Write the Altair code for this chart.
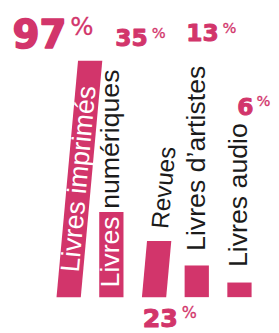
import math
import altair as alt
import pandas as pd

# ---------------- data ----------------
CATEGORIES = ["Livres imprimés", "Livres numériques", "Revues", "Livres d’artistes", "Livres audio"]
VALUES = [97, 35, 23, 13, 6]
VALUE_TEXT = ["97", "35", "23", "13", "6"]
PERCENT_SIGN = "%"

# ---------------- style ----------------
PINK = "#D2356B"
INK = "#1b1b1b"
W, H = 271, 293
BOTTOM_PAD = 32
X_STEP_PX = 44.0
FIRST_CENTER_PX = 62.5
PX_PER_UNIT_Y = 2.51
BAR_W_PX = 25.0
TILT_DEG = [5.2, 0, 5.2, 0, 0]

LABEL_FONT = "Liberation Sans"
LABEL_SIZE = [27.5, 27.5, 25, 27.5, 27.5]
LABEL_BASE = ["bottom", "bottom", "top", "top", "top"]   # where the label starts
LABEL_GAP = [26, 10, 13, 15, 16]                          # px from that point
LABEL_INSIDE_WORDS = [2, 1, 0, 0, 0]                      # words drawn white inside the bar

NUM_FONT = "DejaVu Sans"
NUM_SIZE = [40, 24, 26, 24, 24]
NUM_STROKE = [1.6, 1.0, 1.1, 1.0, 1.0]
NUM_ANCHOR = ["top", "top", "bottom", "top", "top"]
NUM_OFFSET = [(-24.5, -13.5), (37.5, -171), (24.5, 31), (22.5, -231), (14.5, -173)]
PCT_RATIO = 0.63
PCT_GAP = [4, 4, 4, 4, 3]

# Helvetica-compatible advance widths (per em) for label continuation
ADV = {"L": .556, "i": .222, "v": .5, "r": .333, "e": .556, "s": .5, " ": .278,
       "n": .556, "u": .556, "m": .833, "é": .556, "q": .556, "R": .722, "d": .556,
       "’": .222, "a": .556, "t": .278, "o": .556, "p": .556}


def text_width(s, size):
    return sum(ADV.get(ch, .556) for ch in s) * size


x_domain = [-FIRST_CENTER_PX / X_STEP_PX, (W - FIRST_CENTER_PX) / X_STEP_PX]
y_domain = [0, H / PX_PER_UNIT_Y]


def xq(field):
    return alt.X(field, type="quantitative", scale=alt.Scale(domain=x_domain, nice=False, zero=False),
                 axis=None, stack=None)


def yq(field):
    return alt.Y(field, type="quantitative", scale=alt.Scale(domain=y_domain, nice=False, zero=False),
                 axis=None)


def shift_units(i):
    return math.tan(math.radians(TILT_DEG[i])) * PX_PER_UNIT_Y / X_STEP_PX


# ---------------- bars (tilted parallelograms) ----------------
half = BAR_W_PX / 2 / X_STEP_PX
bar_rows = []
for i, (c, v) in enumerate(zip(CATEGORIES, VALUES)):
    s = shift_units(i)
    bar_rows.append({"cat": c, "v": 0, "x0": i - half, "x1": i + half})
    bar_rows.append({"cat": c, "v": v, "x0": i - half + s * v, "x1": i + half + s * v})

bars = alt.Chart(pd.DataFrame(bar_rows)).mark_area(orient="horizontal", color=PINK, opacity=1).encode(
    y=yq("v"), x=xq("x0"), x2="x1", detail="cat:N"
)

layers = [bars]

# ---------------- category labels ----------------
for i, (c, v) in enumerate(zip(CATEGORIES, VALUES)):
    s = shift_units(i)
    if LABEL_BASE[i] == "bottom":
        ax, ay = i, 0
    else:
        ax, ay = i + s * v, v
    angle = 270 + TILT_DEG[i]
    words = c.split(" ")
    inside = " ".join(words[:LABEL_INSIDE_WORDS[i]])
    outside = " ".join(words[LABEL_INSIDE_WORDS[i]:])
    df = pd.DataFrame([{"x": ax, "v": ay, "inside": inside, "outside": outside}])
    dx = LABEL_GAP[i]
    if inside:
        layers.append(alt.Chart(df).mark_text(
            angle=angle, align="left", baseline="middle", dx=dx, font=LABEL_FONT,
            fontSize=LABEL_SIZE[i], color="white").encode(x=xq("x"), y=yq("v"), text="inside:N"))
        dx += text_width(inside + " ", LABEL_SIZE[i])
    if outside:
        layers.append(alt.Chart(df).mark_text(
            angle=angle, align="left", baseline="middle", dx=dx, font=LABEL_FONT,
            fontSize=LABEL_SIZE[i], color=INK).encode(x=xq("x"), y=yq("v"), text="outside:N"))

# ---------------- value labels ----------------
for i, (t, v) in enumerate(zip(VALUE_TEXT, VALUES)):
    s = shift_units(i)
    if NUM_ANCHOR[i] == "top":
        ax, ay = i + s * v, v
    else:
        ax, ay = i, 0
    df = pd.DataFrame([{"x": ax, "v": ay, "num": t, "pct": PERCENT_SIGN}])
    F = NUM_SIZE[i]
    ddx, ddy = NUM_OFFSET[i]
    layers.append(alt.Chart(df).mark_text(
        align="right", baseline="alphabetic", dx=ddx, dy=ddy, font=NUM_FONT, fontWeight="bold",
        fontSize=F, color=PINK, stroke=PINK, strokeWidth=NUM_STROKE[i], strokeJoin="round").encode(
        x=xq("x"), y=yq("v"), text="num:N"))
    layers.append(alt.Chart(df).mark_text(
        align="left", baseline="alphabetic", dx=ddx + PCT_GAP[i], dy=ddy - (0.729 * F * (1 - PCT_RATIO) + 2),
        font=NUM_FONT, fontSize=F * PCT_RATIO, color=PINK, stroke=PINK, strokeWidth=0.3).encode(
        x=xq("x"), y=yq("v"), text="pct:N"))

chart = alt.layer(*layers).properties(
    width=W, height=H, autosize="none",
    padding={"left": 0, "top": 0, "right": 0, "bottom": BOTTOM_PAD},
    background="white",
).configure_view(stroke=None)

chart.save("out.html", embed_options={"renderer": "svg", "actions": False})
